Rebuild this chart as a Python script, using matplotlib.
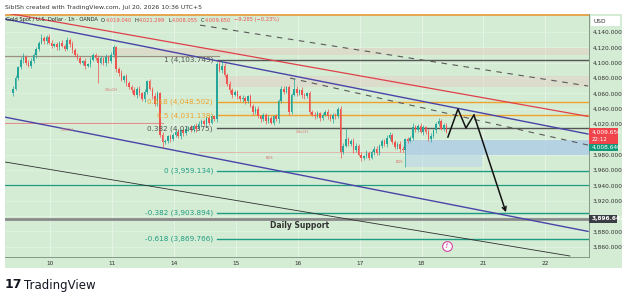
import numpy as np
import matplotlib.pyplot as plt
from matplotlib.patches import Rectangle

# hourly closes (XAUUSD, 1h)
closes = [
    4066, 4080, 4094, 4104, 4108, 4100, 4096, 4102,
    4110, 4118, 4126, 4132, 4128, 4134,
    4126, 4122, 4124, 4120, 4126, 4122, 4118, 4130,
    4124, 4116, 4110, 4106, 4100, 4102, 4096, 4098,
    4104, 4110, 4106, 4100,
    4106, 4100, 4108, 4102, 4110, 4120,
    4092, 4086, 4078, 4082, 4074,
    4068, 4064, 4058, 4066, 4060,
    4052, 4062, 4076,
    4066, 4056, 4046, 4060,
    4006, 3996,
    3998, 4004, 4000, 4006, 4010, 4004, 4012, 4008, 4014,
    4016, 4012, 4018, 4014, 4020,
    4024, 4020, 4028, 4022, 4030, 4026,
    4098, 4090, 4096, 4084,
    4072, 4064, 4058, 4062,
    4056, 4052, 4054, 4050, 4056,
    4044, 4036, 4040,
    4030, 4026, 4032, 4024, 4028, 4022, 4030, 4026,
    4050, 4066,
    4062, 4068, 4036,
    4058, 4066, 4060, 4064, 4058,
    4056, 4060, 4036,
    4032, 4030, 4034, 4028, 4032, 4036, 4030, 4026, 4032, 4030, 4040,
    3984, 3992,
    4000, 3994, 3998,
    3986, 3992, 3980, 3976,
    3978, 3982, 3976,
    3984, 3988, 3982,
    3992, 3998, 3994, 4002, 4006,
    3996, 3990, 3994, 3988, 3986,
    4000,
    3998, 4002, 4016,
    4012, 4018, 4010, 4016, 4010,
    4000, 4004,
    4012, 4020, 4024,
    4014, 4019, 4009.65,
]
first_open = 4060

wick_up = [
    3, 4, 2, 3, 5, 2, 3, 4, 2, 3, 2, 5, 3,
    2, 4, 3, 2, 3, 2, 4, 2, 3, 2, 4, 3, 2,
    3, 2, 4, 2, 3, 3, 2, 4, 3, 2, 3, 2, 4,
    3, 2, 3, 4, 2, 3, 2, 3, 4, 2, 3, 2, 4,
    2, 3, 2, 4, 3, 2, 4, 3, 2, 3, 2, 4, 3,
    2, 3, 4, 2, 3, 2, 3, 4, 2, 3, 2, 4, 3,
    2, 3, 4, 8, 3, 2, 4, 3, 2, 3, 2, 4, 3,
    2, 3, 2, 4, 3, 2, 3, 2, 4, 3, 2, 3, 2,
    4, 3, 2, 3, 2, 14, 3, 2, 4, 3, 2, 3, 2,
    4, 3, 2, 3, 2, 4, 3, 2, 3, 2, 4, 3, 15,
    3, 2, 4, 3, 2, 3, 2, 4, 3, 2, 3, 4, 2,
    3, 2, 4, 3, 2, 3, 2, 4, 3, 2, 3, 2, 5,
    3, 2, 4, 3, 2, 3, 4, 2, 3, 4, 2, 3, 2.3,
]
wick_dn = [
    3, 2, 3, 2, 4, 3, 2, 3, 2, 4, 3, 2, 3,
    4, 2, 3, 2, 3, 4, 2, 3, 2, 3, 4, 2, 3,
    2, 3, 4, 2, 3, 2, 3, 27, 2, 3, 4, 2, 3,
    2, 4, 3, 2, 3, 4, 2, 3, 2, 4, 3, 2, 3,
    3, 2, 4, 3, 2, 3, 7, 2, 3, 4, 2, 3, 2,
    3, 4, 2, 3, 2, 3, 4, 2, 3, 2, 4, 3, 2,
    2, 3, 2, 4, 3, 2, 3, 4, 2, 3, 2, 3, 4,
    3, 2, 4, 3, 2, 3, 2, 4, 3, 2, 3, 2, 4,
    2, 3, 2, 4, 3, 2, 3, 2, 4, 3, 2, 3, 2,
    3, 2, 4, 3, 2, 3, 2, 4, 3, 2, 8, 3, 2,
    3, 2, 4, 3, 2, 4, 3, 2, 3, 2, 4, 3, 2,
    3, 2, 4, 3, 2, 3, 2, 4, 3, 22, 3, 2, 3,
    2, 3, 2, 4, 3, 2, 3, 2, 4, 3, 2, 3, 1.6,
]

days = ['10', '11', '14', '15', '16', '17', '18', '21', '22']
price_ticks = [4140, 4120, 4100, 4080, 4060, 4040, 4020, 3980, 3960,
               3940, 3920, 3880, 3860]

fib_levels = [1, 0.618, 0.5, 0.382, 0, -0.382, -0.618]
fib_prices = [4103.743, 4048.502, 4031.138, 4014.375, 3959.134, 3903.894, 3869.766]
fib_colors = ['#555555', '#f0a32c', '#f0a32c', '#555555', '#1e9c82', '#1e9c82', '#1e9c82']
fib_start = 79

# drawings: (bar index, price) anchors
channel_top = [(-3.1, 4157), (222.9, 4007)]
channel_bot = [(-3.1, 4029), (222.9, 3880)]
red_trend = [(-1.2, 4164), (222.9, 4030)]
dash_a = [(72.5, 4149), (222.9, 4069.6)]
dash_b = [(107.4, 4080), (222.9, 3992.6)]
thin_line = [(-3.1, 3970.5), (215.9, 3847.9)]
path_x = [168.6, 172.5, 175.6, 178.7, 191.1]
path_y = [4003, 4039.6, 4014.8, 4031.8, 3905]

daily_support = 3896.642
last_price = 4009.65
bid_price = 4008.64

GREEN_BG = '#d4ecd4'
UP = '#26a69a'
DN = '#ef5350'

fig = plt.figure(figsize=(6.25, 2.99), dpi=100)
fig.patches.append(Rectangle((5 / 625, 31 / 299), 617 / 625, 254 / 299,
                             transform=fig.transFigure, facecolor=GREEN_BG,
                             edgecolor='none', zorder=-10))
ax = fig.add_axes([5 / 625, 42 / 299, 584 / 625, 243 / 299])
ax.set_facecolor('none')
ax.set_xlim(-3.1, 223.3)
ax.set_ylim(3846.6, 4163.5)

# faint grid
for d in range(len(days)):
    ax.axvline(14.4 + 24 * d, color='white', lw=0.6, alpha=0.45, zorder=0)
for p in price_ticks + [4000, 3900]:
    ax.axhline(p, color='white', lw=0.5, alpha=0.35, zorder=0)

# zones
ax.add_patch(Rectangle((39, 4110), 200, 9, facecolor='#e6c9c0', alpha=0.45, edgecolor='none', zorder=1))
ax.add_patch(Rectangle((80, 4068), 150, 14, facecolor='#e8c6c0', alpha=0.4, edgecolor='none', zorder=1))
ax.add_patch(Rectangle((152, 3980), 80, 19, facecolor='#a9c8ea', alpha=0.7, edgecolor='none', zorder=1))
ax.add_patch(Rectangle((152, 3964), 30, 16, facecolor='#b8d4ec', alpha=0.5, edgecolor='none', zorder=1))

# horizontal levels
ax.axhline(4162, color='#e8a048', lw=1.3, zorder=3)
ax.plot([-3.1, 80], [4109, 4109], color='#9a8f80', lw=0.9, zorder=2)
ax.plot([-3.1, 58], [4021, 4021], color='#e0908a', lw=0.8, zorder=2)
ax.plot([72, 152], [3983, 3983], color='#e0b0a8', lw=0.6, zorder=2)
ax.axhline(3940, color='#1e9c82', lw=0.9, zorder=2)
ax.axhline(daily_support, color='#8a8a8a', lw=2.0, zorder=2)
ax.text(111, 3888, 'Daily Support', fontsize=5.5, fontweight='bold',
        color='#333333', ha='center', va='center', zorder=5)

for lvl, p, c in zip(fib_levels, fib_prices, fib_colors):
    ax.plot([fib_start, 223.3], [p, p], color=c, lw=1.0, zorder=2)
    ax.text(fib_start - 1.5, p, f'{lvl:g} ({p:,.3f})', color=c, fontsize=5.2,
            ha='right', va='center', zorder=5)

# trend drawings
for line, col, ls, lw in [(channel_top, '#4a44a8', '-', 1.0),
                          (channel_bot, '#4a44a8', '-', 1.0),
                          (red_trend, '#e0404a', '-', 0.9),
                          (dash_a, '#5a5a5a', (0, (5, 5)), 0.8),
                          (dash_b, '#5a5a5a', (0, (5, 5)), 0.8),
                          (thin_line, '#2e2e2e', '-', 0.6)]:
    xs, ys = zip(*line)
    ax.plot(xs, ys, color=col, ls=ls, lw=lw, zorder=3)

# candles
idx = np.arange(len(closes))
c = np.array(closes, dtype=float)
o = np.concatenate([[first_open], c[:-1]])
hi = np.maximum(o, c) + np.array(wick_up)
lo = np.minimum(o, c) - np.array(wick_dn)
cols = np.where(c >= o, UP, DN)
ax.vlines(idx, lo, hi, colors=cols, lw=0.5, zorder=4)
ax.bar(idx, np.maximum(np.abs(c - o), 0.8), bottom=np.minimum(o, c), width=0.6,
       color=cols, zorder=4, linewidth=0)

# small structure tags
for tx, ty, s in [(38, 4064, 'CHoCH'), (21, 4012, 'CHoCH'), (99.6, 3976, 'BOS'),
                  (112, 4010, 'CHoCH'), (150, 3971, 'BOS')]:
    ax.text(tx, ty, s, fontsize=2.6, color='#d87070', ha='center', va='center', zorder=5)

# projected path
ax.plot(path_x[:-1], path_y[:-1], color='#111111', lw=1.1, zorder=6)
ax.annotate('', xy=(path_x[-1], path_y[-1]), xytext=(path_x[-2], path_y[-2]),
            arrowprops=dict(arrowstyle='->', color='#111111', lw=1.1,
                            mutation_scale=7, shrinkA=0, shrinkB=0), zorder=6)

# event marker
ax.plot([168.2], [3861], marker='o', ms=7, mfc='white', mec='#d63fa0', mew=0.8,
        zorder=6)
ax.text(168.2, 3861, 'ƒ', fontsize=4.5, color='#d63fa0', ha='center', va='center',
        zorder=7)

# axes styling
ax.yaxis.tick_right()
ax.set_yticks(price_ticks)
ax.set_yticklabels([f'{p:,.3f}' for p in price_ticks])
ax.set_xticks([14.4 + 24 * d for d in range(len(days))])
ax.set_xticklabels(days)
ax.tick_params(axis='y', length=0, pad=2.5, labelsize=4.2, labelcolor='#333333')
ax.tick_params(axis='x', length=0, pad=3, labelsize=4.2, labelcolor='#333333')
for s in ['top', 'left']:
    ax.spines[s].set_visible(False)
for s in ['right', 'bottom']:
    ax.spines[s].set_color('#7a8a7a')
    ax.spines[s].set_linewidth(0.6)

# price tags on the scale
yt = ax.get_yaxis_transform()
ax.add_patch(Rectangle((1.0, 3993.9), 0.05, 20.9, transform=yt, facecolor='#f0444a',
                       edgecolor='none', clip_on=False, zorder=8))
ax.text(1.004, last_price, f'{last_price:,.3f}', transform=yt, fontsize=4.2,
        color='white', va='center', zorder=9)
ax.text(1.004, 3999.2, '22:12', transform=yt, fontsize=4.0, color='white',
        va='center', zorder=9)
ax.add_patch(Rectangle((1.0, 3984.8), 0.05, 9.1, transform=yt, facecolor='#10997a',
                       edgecolor='none', clip_on=False, zorder=8))
ax.text(1.004, 3989.4, f'{bid_price:,.3f}', transform=yt, fontsize=4.2,
        color='white', va='center', zorder=9)
ax.add_patch(Rectangle((1.0, 3890.9), 0.048, 10.4, transform=yt, facecolor='#3a3d44',
                       edgecolor='none', clip_on=False, zorder=8))
ax.text(1.004, daily_support, f'{daily_support:,.3f}', transform=yt, fontsize=4.2,
        color='white', fontweight='bold', va='center', zorder=9)
ax.add_patch(Rectangle((1.003, 4147.8), 0.05, 13.0, transform=yt, facecolor='white',
                       edgecolor='none', clip_on=False, zorder=8))
ax.text(1.008, 4154.3, 'USD', transform=yt, fontsize=4.2, color='#333333',
        va='center', zorder=9)

# header texts
fig.text(5 / 625, 1 - 7 / 299, 'SibISh created with TradingView.com, Jul 20, 2026 10:36 UTC+5',
         fontsize=4.4, color='#333333', va='center')
hy = 1 - 20 / 299
renderer = fig.canvas.get_renderer()
xcur = 6
for s, col, gap in [('Gold Spot / U.S. Dollar · 1h · OANDA', '#222222', 3),
                    ('O', '#222222', 0.5), ('4,019.040', DN, 3),
                    ('H', '#222222', 0.5), ('4,021.299', DN, 3),
                    ('L', '#222222', 0.5), ('4,008.055', DN, 3),
                    ('C', '#222222', 0.5), ('4,009.650', DN, 3),
                    ('−9.285 (−0.23%)', DN, 0)]:
    t = fig.text(xcur / 625, hy, s, fontsize=3.7, color=col, va='center', zorder=10)
    xcur += t.get_window_extent(renderer).width + gap

# footer logo
fig.text(5 / 625, 1 - 285 / 299, '17', fontsize=9, fontweight='heavy', color='#131722',
         va='center')
fig.text(24 / 625, 1 - 285 / 299, 'TradingView', fontsize=8.5, color='#131722',
         va='center')

fig.savefig('out.png', dpi=100)
